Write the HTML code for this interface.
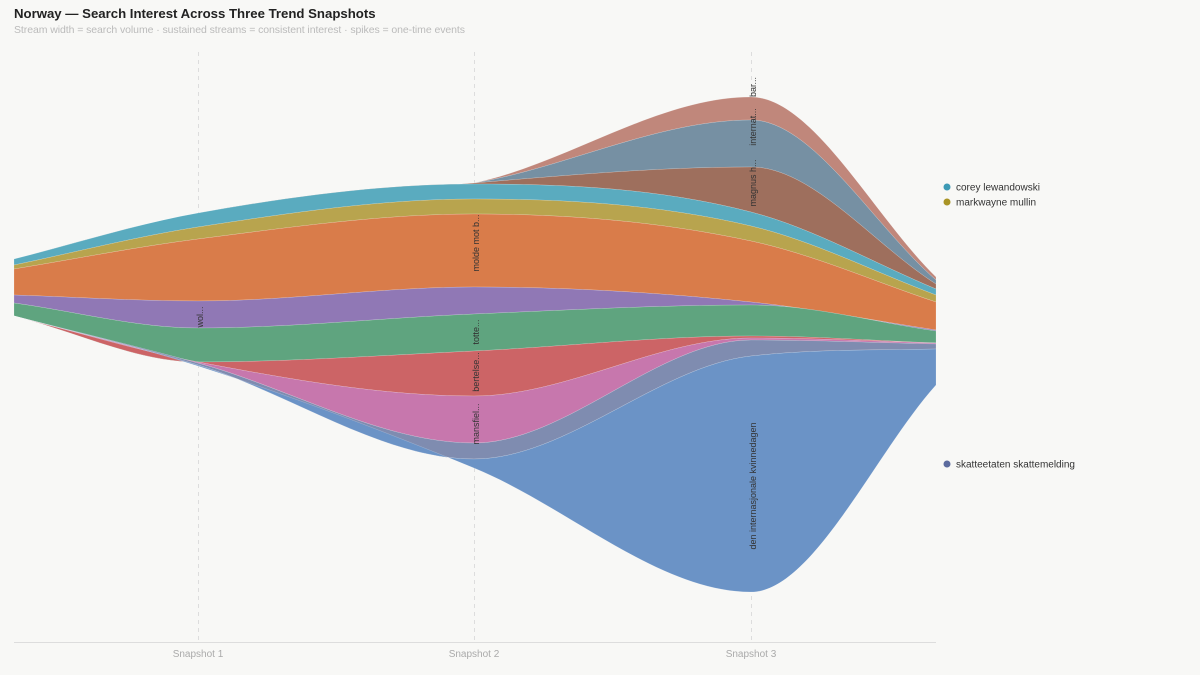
<!DOCTYPE html>
<html><head><meta charset="utf-8"><style>
body{margin:0;background:#f8f8f6;font-family:"Liberation Sans",sans-serif}
svg{display:block}
</style></head><body>
<svg id="s" width="1200" height="675" xmlns="http://www.w3.org/2000/svg">
<rect width="1200" height="675" fill="#f8f8f6"/>
<text x="14" y="18" font-size="13.2" font-weight="bold" fill="#222">Norway — Search Interest Across Three Trend Snapshots</text>
<text x="14" y="33" font-size="10.5" fill="#bbb" textLength="451">Stream width = search volume · sustained streams = consistent interest · spikes = one-time events</text>
<g stroke="#ddd" stroke-dasharray="4,4" stroke-width="1">
<line x1="198.5" y1="52" x2="198.5" y2="642"/><line x1="474.5" y1="52" x2="474.5" y2="642"/><line x1="751.5" y1="52" x2="751.5" y2="642"/>
</g>
<g id="layers"></g>
<line x1="14" y1="642.5" x2="936" y2="642.5" stroke="#ddd"/>
<g font-size="10" fill="#aaa" text-anchor="middle">
<text x="198" y="657">Snapshot 1</text><text x="474" y="657">Snapshot 2</text><text x="751" y="657">Snapshot 3</text>
</g>
<g font-size="9" fill="#333" text-anchor="middle">
<text transform="translate(203,317) rotate(-90)">wol...</text>
<text transform="translate(479,243) rotate(-90)">molde mot b...</text>
<text transform="translate(479,332) rotate(-90)">totte...</text>
<text transform="translate(479,372) rotate(-90)">bertelse...</text>
<text transform="translate(479,424) rotate(-90)">mansfiel...</text>
<text transform="translate(756,183) rotate(-90)">magnus h...</text>
<text transform="translate(756,127) rotate(-90)">internat...</text>
<text transform="translate(756,87) rotate(-90)">bar...</text>
<text transform="translate(756,486) rotate(-90)">den internasjonale kvinnedagen</text>
</g>
<g font-size="10" fill="#333">
<circle cx="947" cy="187" r="3.5" fill="#3d9ab5"/><text x="956" y="190.5">corey lewandowski</text>
<circle cx="947" cy="202" r="3.5" fill="#a99425"/><text x="956" y="205.5">markwayne mullin</text>
<circle cx="947" cy="464" r="3.5" fill="#5c6b9e"/><text x="956" y="467.5">skatteetaten skattemelding</text>
</g>
</svg>
<script>
var X=[14,198,474,751,936];
var B=[
[259,213,183,97,277],
[259,213,183,120,280],
[259,213,183,167,284],
[259,213,184,212,289],
[265,227,199,226,295],
[269,239,214,241,302],
[295,301,287,302,330],
[303,328,314,305,331],
[316,362,351,336,343],
[316,362,396,338,343],
[316,363,443,340,344],
[316,365,459,356,349],
[316,366,468,592,385]];
var C=["#c0877b","#7690a3","#9e6f5d","#5aabbf","#b8a44e","#d97c4a","#9078b5","#5fa47f","#cc6466","#c777ad","#7f8cb0","#6b93c6"];
function tang(y){var n=y.length,d=[],m=[];for(var i=0;i<n-1;i++)d.push((y[i+1]-y[i])/(X[i+1]-X[i]));
m[0]=d[0];m[n-1]=d[n-2];for(i=1;i<n-1;i++){m[i]=(d[i-1]*d[i]<=0)?0:(d[i-1]+d[i])/2;}
for(i=0;i<n-1;i++){if(d[i]==0){m[i]=0;m[i+1]=0;continue;}var a=m[i]/d[i],b=m[i+1]/d[i],s=a*a+b*b;if(s>9){var t=3/Math.sqrt(s);m[i]=t*a*d[i];m[i+1]=t*b*d[i];}}return m;}
function seg(y,rev){var m=tang(y),s="";
if(!rev){for(var i=0;i<4;i++){var h=(X[i+1]-X[i])/3;s+=" C"+(X[i]+h)+","+(y[i]+m[i]*h)+" "+(X[i+1]-h)+","+(y[i+1]-m[i+1]*h)+" "+X[i+1]+","+y[i+1];}}
else{for(var i=4;i>0;i--){var h=(X[i]-X[i-1])/3;s+=" C"+(X[i]-h)+","+(y[i]-m[i]*h)+" "+(X[i-1]+h)+","+(y[i-1]+m[i-1]*h)+" "+X[i-1]+","+y[i-1];}}return s;}
var g=document.getElementById("layers"),h="";
for(var k=0;k<12;k++){var t=B[k],b=B[k+1];
var d="M"+X[0]+","+t[0]+seg(t,false)+" L"+X[4]+","+b[4]+seg(b,true)+" Z";
h+='<path d="'+d+'" fill="'+C[k]+'" stroke="#ffffff" stroke-opacity="0.3" stroke-width="0.5"/>';}
g.innerHTML=h;
</script>
</body></html>
